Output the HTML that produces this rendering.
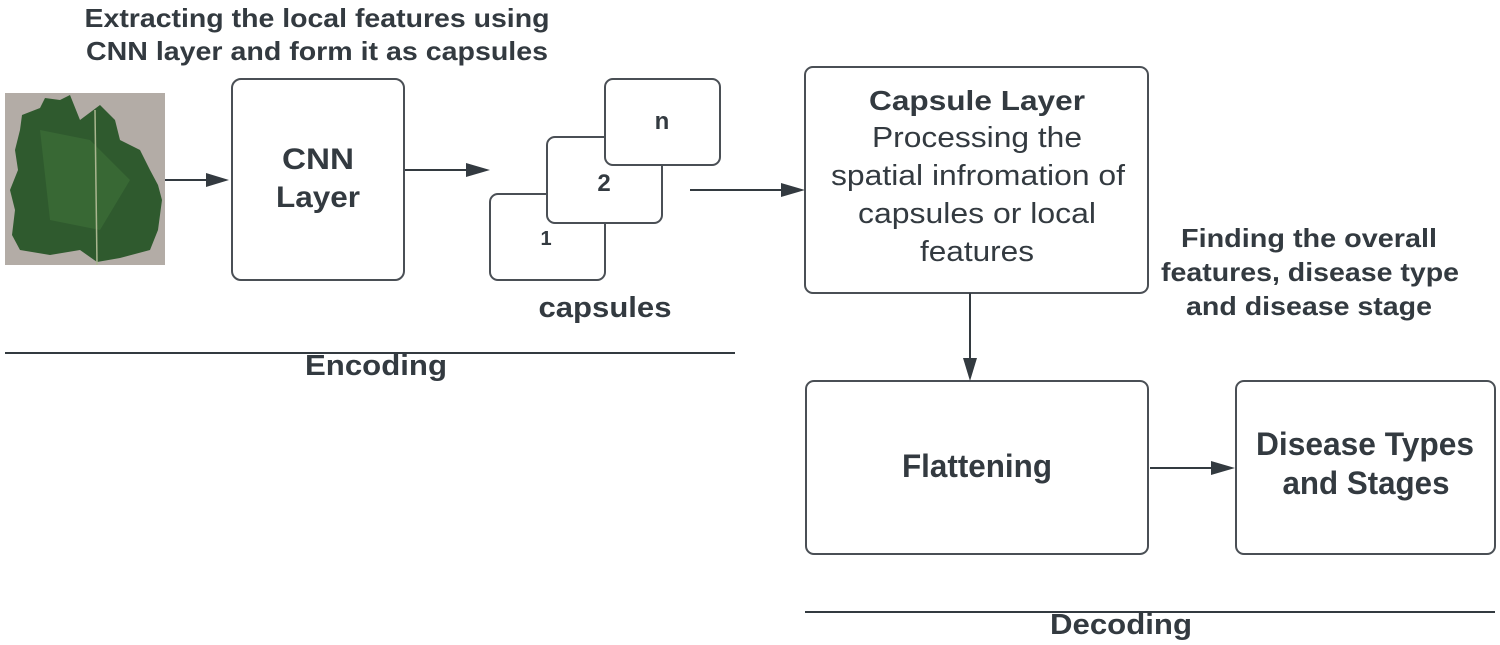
<!DOCTYPE html>
<html><head><meta charset="utf-8"><style>html,body{margin:0;padding:0;background:#fff}svg{display:block}</style></head>
<body>
<svg width="1500" height="645" viewBox="0 0 1500 645" xmlns="http://www.w3.org/2000/svg" font-family="Liberation Sans, sans-serif" fill="#333a40">
<g font-weight="bold" font-size="26" text-anchor="middle">
<text x="317" y="27" textLength="465" lengthAdjust="spacingAndGlyphs">Extracting the local features using</text>
<text x="317" y="60" textLength="462" lengthAdjust="spacingAndGlyphs">CNN layer and form it as capsules</text>
</g>
<!-- leaf -->
<rect x="5" y="93" width="160" height="172" fill="#b3aca6"/>
<path d="M22,115 L40,108 L45,98 L60,100 L70,95 L80,120 L100,105 L115,120 L120,140 L140,150 L150,170 L158,185 L162,200 L158,230 L150,250 L120,258 L97,262 L80,250 L50,255 L20,250 L12,235 L15,210 L10,190 L18,170 L15,150 L20,130 Z" fill="#2f5a2e"/>
<path d="M40,130 L90,140 L130,180 L100,230 L50,220 Z" fill="#3c6e37" opacity="0.7"/>
<line x1="95" y1="110" x2="97" y2="265" stroke="#a9b58f" stroke-width="1.5"/>
<g fill="none" stroke="#4a4f55" stroke-width="2">
<rect x="232" y="79" width="172" height="201" rx="9"/>
<rect x="490" y="194" width="115" height="86" rx="8" fill="#fff"/>
<rect x="547" y="137" width="115" height="86" rx="8" fill="#fff"/>
<rect x="605" y="79" width="115" height="86" rx="8" fill="#fff"/>
<rect x="805" y="67" width="343" height="226" rx="8"/>
<rect x="806" y="381" width="342" height="173" rx="8"/>
<rect x="1236" y="381" width="259" height="173" rx="8"/>
</g>
<g stroke="#333a40" stroke-width="2">
<line x1="165" y1="180" x2="210" y2="180"/>
<line x1="405" y1="170" x2="470" y2="170"/>
<line x1="690" y1="190" x2="785" y2="190"/>
<line x1="970" y1="293" x2="970" y2="362"/>
<line x1="1150" y1="468" x2="1215" y2="468"/>
<line x1="5" y1="353" x2="735" y2="353"/>
<line x1="805" y1="612" x2="1495" y2="612"/>
</g>
<g fill="#333a40">
<polygon points="206,173 229,180 206,187"/>
<polygon points="466,163 490,170 466,177"/>
<polygon points="781,183 805,190 781,197"/>
<polygon points="963,358 970,381 977,358"/>
<polygon points="1211,461 1235,468 1211,475"/>
</g>
<g font-weight="bold" text-anchor="middle" lengthAdjust="spacingAndGlyphs">
<text x="318" y="169" font-size="30" textLength="72" lengthAdjust="spacingAndGlyphs">CNN</text>
<text x="318" y="207" font-size="30" textLength="84" lengthAdjust="spacingAndGlyphs">Layer</text>
<text x="546" y="245" font-size="20">1</text>
<text x="604" y="191" font-size="24">2</text>
<text x="662" y="129" font-size="24">n</text>
<text x="605" y="317" font-size="29" textLength="133" lengthAdjust="spacingAndGlyphs">capsules</text>
<text x="376" y="375" font-size="29" textLength="142" lengthAdjust="spacingAndGlyphs">Encoding</text>
<text x="977" y="110" font-size="28" textLength="216" lengthAdjust="spacingAndGlyphs">Capsule Layer</text>
<text x="1309" y="247" font-size="26" textLength="256" lengthAdjust="spacingAndGlyphs">Finding the overall</text>
<text x="1310" y="281" font-size="26" textLength="298" lengthAdjust="spacingAndGlyphs">features, disease type</text>
<text x="1309" y="315" font-size="26" textLength="246" lengthAdjust="spacingAndGlyphs">and disease stage</text>
<text x="977" y="477" font-size="32" textLength="150" lengthAdjust="spacingAndGlyphs">Flattening</text>
<text x="1365" y="455" font-size="32" textLength="218" lengthAdjust="spacingAndGlyphs">Disease Types</text>
<text x="1366" y="494" font-size="32" textLength="167" lengthAdjust="spacingAndGlyphs">and Stages</text>
<text x="1121" y="634" font-size="29" textLength="142" lengthAdjust="spacingAndGlyphs">Decoding</text>
</g>
<g text-anchor="middle" font-size="29">
<text x="977" y="147" textLength="210" lengthAdjust="spacingAndGlyphs">Processing the</text>
<text x="978" y="185" textLength="294" lengthAdjust="spacingAndGlyphs">spatial infromation of</text>
<text x="977" y="223" textLength="238" lengthAdjust="spacingAndGlyphs">capsules or local</text>
<text x="977" y="261" textLength="114" lengthAdjust="spacingAndGlyphs">features</text>
</g>
</svg>
</body></html>
